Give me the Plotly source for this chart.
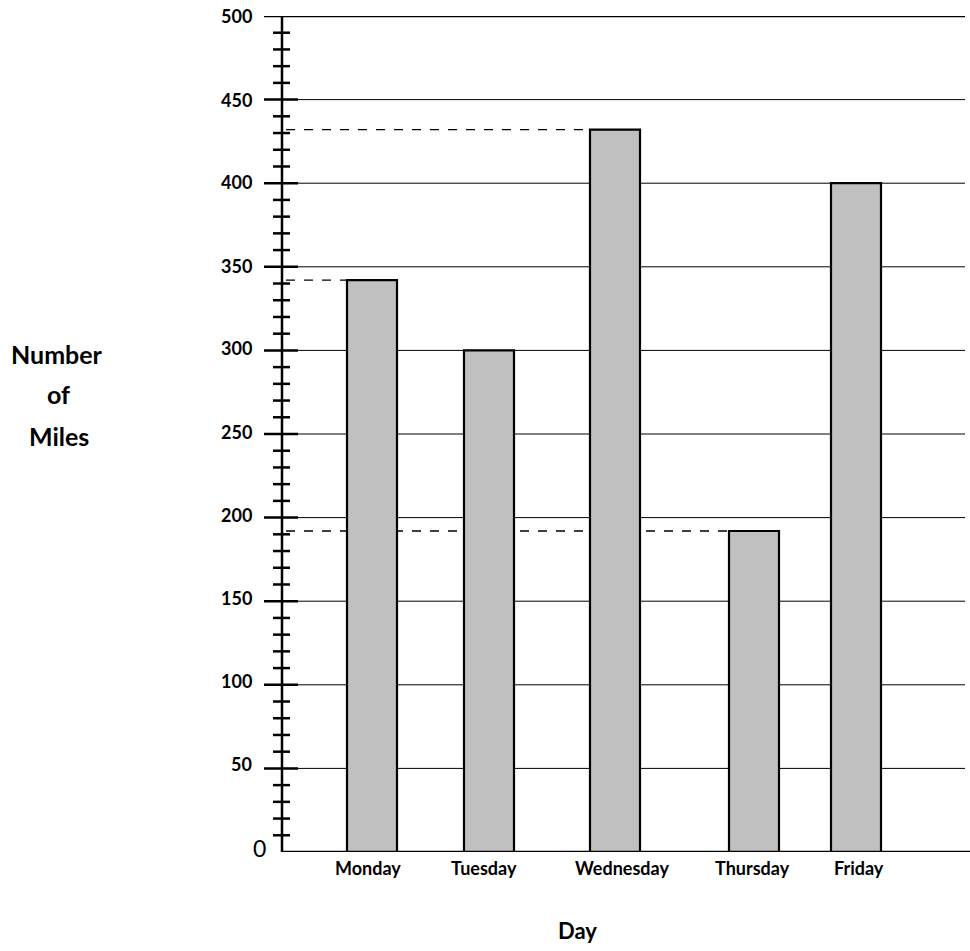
import plotly.graph_objects as go

# ---- data ----
days = ["Monday", "Tuesday", "Wednesday", "Thursday", "Friday"]
miles = [342, 300, 432, 192, 400]
dashed_days = ["Monday", "Wednesday", "Thursday"]
y_major = [50, 100, 150, 200, 250, 300, 350, 400, 450, 500]
y_title_lines = ["Number", "of", "Miles"]
x_title = "Day"

# ---- layout config (x axis units == screen pixels of the page) ----
W, H = 970, 951
bar_centers = [372, 489, 615, 754, 856]
label_centers = [368, 484, 622, 752, 859]
bar_width = 50
axis_x = 282
grid_right = 965
y_bottom_px, y_top_px = 852, 16
FONT = "Lato"


def py(px):
    """screen pixel row -> paper fraction"""
    return (H - px) / H


fig = go.Figure()
fig.add_trace(go.Bar(
    x=bar_centers, y=miles, width=bar_width,
    marker=dict(color="#C0C0C0", line=dict(color="black", width=2.2)),
    hoverinfo="skip",
))

shapes = []
for v in y_major:
    if v == 500:
        shapes.append(dict(type="line", xref="x", yref="y", x0=264, x1=grid_right, y0=v, y1=v,
                           line=dict(color="black", width=2.5), layer="below"))
    else:
        shapes.append(dict(type="line", xref="x", yref="y", x0=axis_x, x1=grid_right, y0=v, y1=v,
                           line=dict(color="black", width=1), layer="below"))
        shapes.append(dict(type="line", xref="x", yref="y", x0=264, x1=298, y0=v, y1=v,
                           line=dict(color="black", width=2.5)))
for v in range(10, 500, 10):
    if v % 50 == 0:
        continue
    shapes.append(dict(type="line", xref="x", yref="y", x0=273, x1=290, y0=v, y1=v,
                       line=dict(color="black", width=2.5)))
shapes.append(dict(type="line", xref="x", yref="y", x0=axis_x, x1=axis_x, y0=0, y1=500,
                   line=dict(color="black", width=2.5)))
shapes.append(dict(type="line", xref="x", yref="y", x0=axis_x, x1=W, y0=0, y1=0,
                   line=dict(color="black", width=2.5)))
for d in dashed_days:
    i = days.index(d)
    shapes.append(dict(type="line", xref="x", yref="y", x0=axis_x + 4, x1=bar_centers[i] - bar_width / 2,
                       y0=miles[i], y1=miles[i],
                       line=dict(color="black", width=1.3, dash="dash"), layer="below"))

annotations = []
for v in y_major:
    annotations.append(dict(x=254, y=v, xref="x", yref="y", text=f"<b>{v}</b>", showarrow=False,
                            xanchor="right", yanchor="middle", yshift=round(4 * (500 - v) / 450),
                            font=dict(family=FONT, size=18, color="black")))
annotations.append(dict(x=268, y=0, xref="x", yref="y", text="0", showarrow=False,
                        xanchor="right", yanchor="middle", yshift=4,
                        font=dict(family=FONT, size=23, color="black")))
for c, d in zip(label_centers, days):
    annotations.append(dict(x=c, y=py(868), xref="x", yref="paper", text=f"<b>{d}</b>", showarrow=False,
                            xanchor="center", yanchor="middle",
                            font=dict(family=FONT, size=18, color="black")))
annotations.append(dict(x=577, y=py(930), xref="x", yref="paper", text=f"<b>{x_title}</b>", showarrow=False,
                        xanchor="center", yanchor="middle",
                        font=dict(family=FONT, size=22, color="black")))
for t, (cx, cy) in zip(y_title_lines, [(57, 354), (58, 394), (59, 436)]):
    annotations.append(dict(x=cx, y=py(cy), xref="x", yref="paper", text=f"<b>{t}</b>", showarrow=False,
                            xanchor="center", yanchor="middle",
                            font=dict(family=FONT, size=25, color="black")))

fig.update_layout(
    width=W, height=H,
    margin=dict(l=0, r=0, t=0, b=0),
    paper_bgcolor="white", plot_bgcolor="white",
    showlegend=False,
    bargap=0,
    xaxis=dict(range=[0, W], domain=[0, 1], visible=False, fixedrange=True),
    yaxis=dict(range=[0, 500], domain=[py(y_bottom_px), py(y_top_px)],
               visible=False, fixedrange=True),
    shapes=shapes,
    annotations=annotations,
)

fig.write_html("out.html",
               config={"displayModeBar": False, "staticPlot": True},
               post_script="document.body.style.margin='0';document.body.style.overflow='hidden';")
